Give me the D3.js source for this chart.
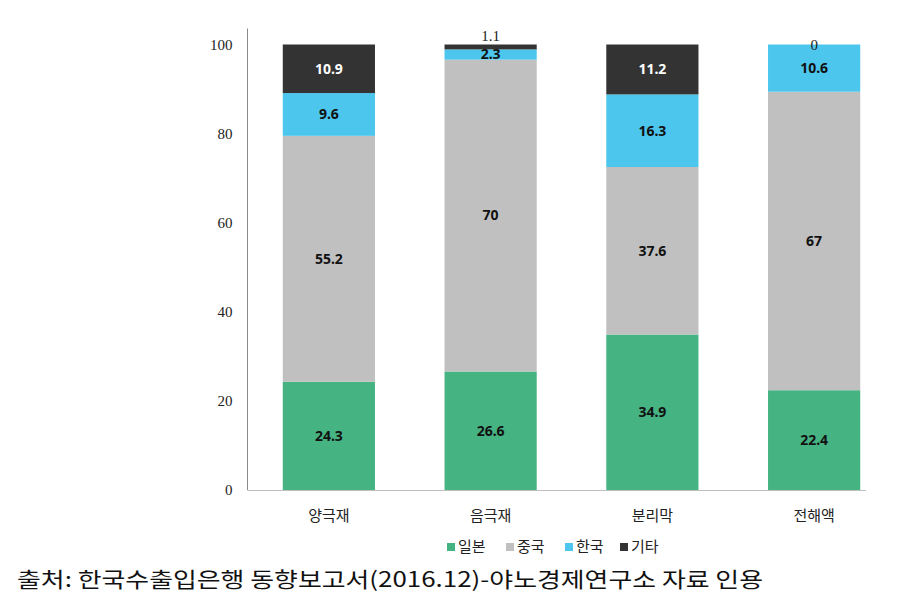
<!DOCTYPE html>
<html><head><meta charset="utf-8">
<script src="https://cdn.jsdelivr.net/npm/d3@7"></script>
<style>body{margin:0;background:#fff}svg{display:block}</style>
</head><body>
<svg id="c" width="900" height="608"></svg>
<script>
const categories = ["양극재", "음극재", "분리막", "전해액"];
const seriesNames = ["일본", "중국", "한국", "기타"];
const japan = [24.3, 26.6, 34.9, 22.4];
const china = [55.2, 70, 37.6, 67];
const korea = [9.6, 2.3, 16.3, 10.6];
const other = [10.9, 1.1, 11.2, 0];
const yTicks = [0, 20, 40, 60, 80, 100];
const sourceText = "출처: 한국수출입은행 동향보고서(2016.12)-야노경제연구소 자료 인용";

const colors = ["#46B383", "#C0C0C0", "#4DC6ED", "#333333"];
const labelColors = ["#111", "#111", "#111", "#fff"];
const seriesData = [japan, china, korea, other];

const svg = d3.select("#c");
const x = d3.scaleBand().domain(categories).range([248, 895]).paddingInner(0.43).paddingOuter(0.215);
const y = d3.scaleLinear().domain([0, 100]).range([490, 44.5]);

const rows = categories.map((c, i) => {
  const o = {cat: c};
  seriesNames.forEach((s, j) => o[s] = seriesData[j][i]);
  return o;
});
const stacked = d3.stack().keys(seriesNames)(rows);

// axes lines
svg.append("line").attr("x1", 247.5).attr("x2", 247.5).attr("y1", y(103.6)).attr("y2", y(0))
  .attr("stroke", "#8a8a8a").attr("stroke-width", 1);
svg.append("line").attr("x1", 247.5).attr("x2", 866).attr("y1", y(0) + 0.5).attr("y2", y(0) + 0.5)
  .attr("stroke", "#bfbfbf").attr("stroke-width", 1);

// y tick labels
const yAxis = d3.axisLeft(y).tickValues(yTicks).tickSize(0).tickPadding(15);
const gy = svg.append("g").attr("transform", "translate(247.5,0)").call(yAxis);
gy.select(".domain").remove();
gy.selectAll("text").attr("font-family", "Liberation Serif, serif").attr("font-size", 15).attr("fill", "#222");

// bars
stacked.forEach((layer, j) => {
  svg.append("g").selectAll("rect").data(layer).join("rect")
    .attr("x", d => x(d.data.cat))
    .attr("width", x.bandwidth())
    .attr("y", d => y(d[1]))
    .attr("height", d => y(d[0]) - y(d[1]))
    .attr("fill", colors[j]);
});

// labels
stacked.forEach((layer, j) => {
  layer.forEach(d => {
    const v = d[1] - d[0];
    const cx = x(d.data.cat) + x.bandwidth() / 2;
    let cy, fill = labelColors[j], weight = "bold", fam = "Noto Sans, sans-serif", fs = 14;
    if (v > 0 && v < 2 && j === 3) {
      cy = y(d[1]) - 9; fill = "#222"; weight = "normal"; fam = "Liberation Serif, serif"; fs = 15;
    } else if (v === 0) {
      cy = y(d[1]); fill = "#222"; weight = "normal"; fam = "Liberation Serif, serif"; fs = 15;
    } else {
      cy = (y(d[0]) + y(d[1])) / 2;
    }
    svg.append("text").attr("x", cx).attr("y", cy).attr("dy", "0.35em")
      .attr("text-anchor", "middle").attr("font-family", fam).attr("font-weight", weight)
      .attr("font-size", fs).attr("fill", fill).text(d3.format("~g")(+v.toFixed(1)));
  });
});

// x labels
const xAxis = d3.axisBottom(x).tickSize(0).tickPadding(20);
const gx = svg.append("g").attr("transform", `translate(0,${y(0)})`).call(xAxis);
gx.select(".domain").remove();
gx.selectAll("text").attr("font-family", "Noto Sans CJK KR, sans-serif").attr("font-size", 15).attr("fill", "#222");

// legend
const legX = [447, 506, 565, 620];
const lg = svg.append("g");
seriesNames.forEach((s, j) => {
  lg.append("rect").attr("x", legX[j]).attr("y", 543).attr("width", 8).attr("height", 8).attr("fill", colors[j]);
  lg.append("text").attr("x", legX[j] + 11).attr("y", 547).attr("dy", "0.35em")
    .attr("font-family", "Noto Sans CJK KR, sans-serif").attr("font-size", 15).attr("fill", "#222").text(s);
});

// source
svg.append("text").attr("x", 17).attr("y", 580).attr("dy", "0.35em")
  .attr("font-family", "Noto Sans CJK KR, sans-serif").attr("font-size", 21).attr("fill", "#111")
  .attr("textLength", 746).attr("lengthAdjust", "spacingAndGlyphs").text(sourceText);
</script>
</body></html>
